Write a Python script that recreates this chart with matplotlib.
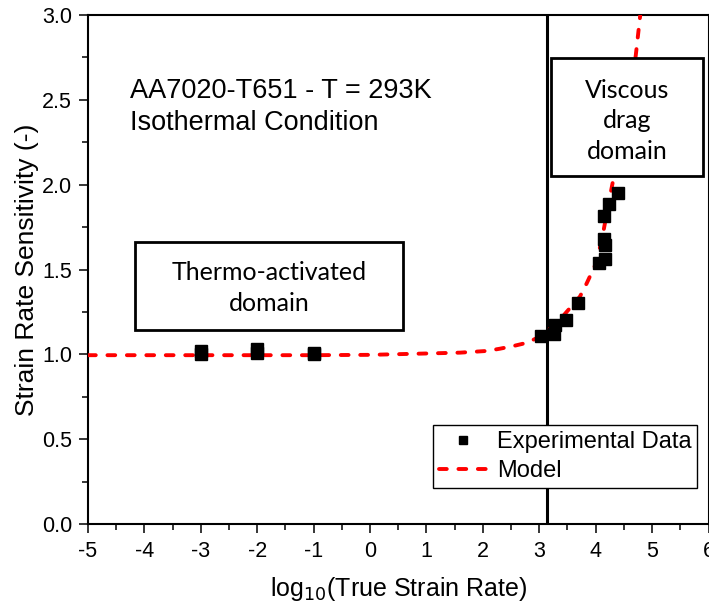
import matplotlib
matplotlib.use("Agg")
import matplotlib.pyplot as plt
from matplotlib.patches import Rectangle
from matplotlib.ticker import MultipleLocator

# ---- data ----
exp_x = [-3.0, -3.0, -2.0, -2.0, -1.0, -1.0,
         3.03, 3.26, 3.28, 3.47, 3.68, 4.05, 4.17, 4.16, 4.15, 4.14, 4.23, 4.39]
exp_y = [1.02, 1.00, 1.03, 1.01, 1.01, 1.00,
         1.11, 1.12, 1.17, 1.20, 1.30, 1.536, 1.56, 1.644, 1.678, 1.817, 1.884, 1.949]

model_x = [-5.0, -3.0, -1.0, 0.0, 1.0, 1.6, 2.07, 2.3, 2.54, 2.78, 3.01, 3.31,
           3.72, 3.84, 4.02, 4.14, 4.23, 4.30, 4.71, 4.79, 4.85]
model_y = [0.995, 0.995, 0.995, 0.997, 1.005, 1.01, 1.02, 1.033, 1.049, 1.068, 1.104, 1.183,
           1.34, 1.418, 1.546, 1.73, 1.89, 2.01, 2.76, 3.0, 3.2]

boundary_x = 3.14

xticks = [-5, -4, -3, -2, -1, 0, 1, 2, 3, 4, 5, 6]
yticks = [0.0, 0.5, 1.0, 1.5, 2.0, 2.5, 3.0]

W, H = 709, 614
fig = plt.figure(figsize=(W / 100, H / 100), dpi=100)
ax = fig.add_axes([88 / W, 1 - 524 / H, (708.5 - 88) / W, (524 - 15) / H])

arial = ["Liberation Sans", "DejaVu Sans"]
calib = ["Lato", "DejaVu Sans"]

ax.plot(model_x, model_y, color="red", lw=2.8, linestyle=(0, (2, 3)),
        dash_capstyle="round", label="Model", zorder=3)
ax.plot(exp_x, exp_y, linestyle="none", marker="s", ms=8.5, color="black",
        label="Experimental Data", zorder=4)
ax.axvline(boundary_x, color="black", lw=2.2, zorder=2)

ax.set_xlim(-5, 6)
ax.set_ylim(0, 3)
ax.set_xticks(xticks)
ax.set_yticks(yticks)
ax.set_xticklabels([f"{t:d}" for t in xticks], family=arial)
ax.set_yticklabels([f"{t:.1f}" for t in yticks], family=arial)
ax.xaxis.set_minor_locator(MultipleLocator(0.5))
ax.yaxis.set_minor_locator(MultipleLocator(0.25))
ax.tick_params(which="major", direction="out", length=6.5, width=1.1, labelsize=15.5, pad=5)
ax.tick_params(which="minor", direction="out", length=4, width=1.1)
ax.tick_params(axis="x", which="major", pad=6)
for s in ax.spines.values():
    s.set_linewidth(1.5)

ax.set_xlabel(r"log$_{10}$(True Strain Rate)", fontsize=18, family=arial, labelpad=9)
ax.set_ylabel("Strain Rate Sensitivity (-)", fontsize=19, family=arial, labelpad=2)

# annotations
ax.text(42 / 620.5, (524 - 91) / 509, "AA7020-T651 - T = 293K", transform=ax.transAxes,
        fontsize=19.5, family=arial, ha="left", va="center")
ax.text(42 / 620.5, (524 - 123) / 509, "Isothermal Condition", transform=ax.transAxes,
        fontsize=19.5, family=arial, ha="left", va="center")

def px(x, y):
    return ((x - 88) / 620.5, (524 - y) / 509)

# Thermo-activated box
x0, y0 = px(135, 330)
x1, y1 = px(403, 242)
ax.add_patch(Rectangle((x0, y0), x1 - x0, y1 - y0, transform=ax.transAxes,
                       facecolor="white", edgecolor="black", lw=2, zorder=5))
cx, cy = px(269, 288)
ax.text(cx, cy, "Thermo-activated\ndomain", transform=ax.transAxes, ha="center", va="center",
        fontsize=18, family=calib, linespacing=1.42, zorder=6)

# Viscous drag box
x0, y0 = px(551, 176)
x1, y1 = px(703, 58)
ax.add_patch(Rectangle((x0, y0), x1 - x0, y1 - y0, transform=ax.transAxes,
                       facecolor="white", edgecolor="black", lw=2, zorder=5))
cx, cy = px(627, 121)
ax.text(cx, cy, "Viscous\ndrag\ndomain", transform=ax.transAxes, ha="center", va="center",
        fontsize=18, family=calib, linespacing=1.42, zorder=6)

handles, labels = ax.get_legend_handles_labels()
leg = ax.legend(handles[::-1], labels[::-1], loc="upper left",
                bbox_to_anchor=(433 / W, 1 - 425 / H), bbox_transform=fig.transFigure,
                borderaxespad=0, borderpad=0.25, handlelength=2.0, handletextpad=0.45,
                labelspacing=0.32, fancybox=False, framealpha=1, edgecolor="black",
                markerscale=0.75, prop={"family": arial, "size": 17})
leg.get_frame().set_linewidth(1.0)
leg.set_zorder(7)

fig.savefig("out.png", dpi=100)
